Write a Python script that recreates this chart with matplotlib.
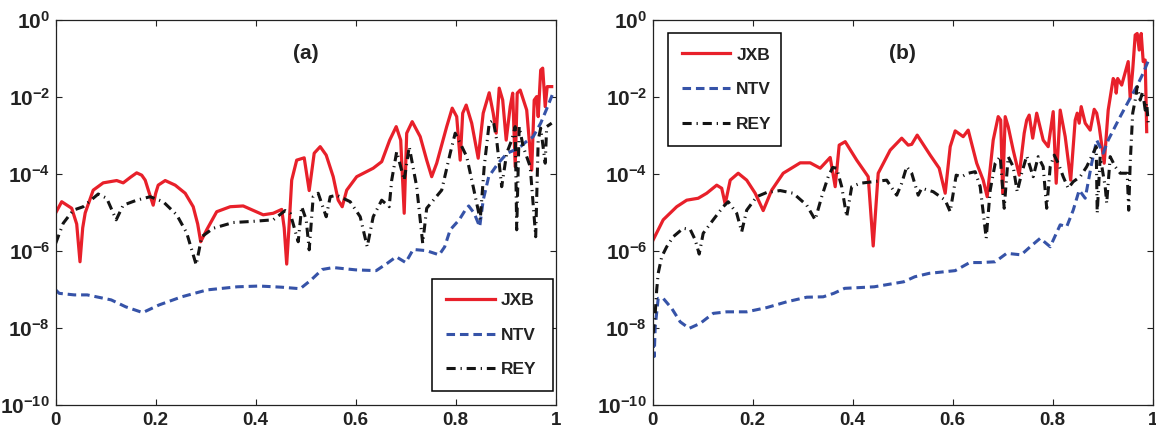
import numpy as np
import matplotlib
matplotlib.use("Agg")
import matplotlib.pyplot as plt

plt.rcParams['font.family'] = ['Liberation Sans', 'DejaVu Sans']
plt.rcParams['font.weight'] = 'bold'
plt.rcParams['mathtext.fontset'] = 'custom'
plt.rcParams['mathtext.rm'] = 'Liberation Sans:bold'
plt.rcParams['mathtext.bf'] = 'Liberation Sans:bold'
plt.rcParams['mathtext.default'] = 'bf'

# ---- panel (a): x and log10 of the value ----
a_jxb_x = [0.000, 0.012, 0.032, 0.042, 0.0486, 0.054, 0.059, 0.075, 0.095, 0.122, 0.135, 0.150, 0.162, 0.172,
           0.179, 0.186, 0.195, 0.200, 0.205, 0.219, 0.239, 0.259, 0.275, 0.284, 0.290, 0.302, 0.322, 0.349,
           0.375, 0.415, 0.435, 0.452, 0.457, 0.462, 0.467, 0.472, 0.482, 0.497, 0.507, 0.517, 0.529, 0.541,
           0.555, 0.565, 0.573, 0.582, 0.602, 0.635, 0.652, 0.668, 0.681, 0.690, 0.697, 0.702, 0.713, 0.729,
           0.742, 0.752, 0.762, 0.782, 0.793, 0.802, 0.809, 0.814, 0.821, 0.832, 0.845, 0.855, 0.867, 0.875,
           0.881, 0.887, 0.894, 0.901, 0.909, 0.914, 0.919, 0.923, 0.929, 0.942, 0.952, 0.957, 0.962, 0.965,
           0.970, 0.974, 0.979, 0.983, 0.992]
a_jxb_e = [-5.01, -4.72, -4.89, -5.3, -6.28, -5.4, -5.01, -4.42, -4.23, -4.17, -4.23, -4.08, -3.97, -4.03,
           -4.16, -4.45, -4.81, -4.5, -4.29, -4.17, -4.29, -4.50, -4.85, -5.3, -5.76, -5.45, -4.98, -4.85,
           -4.83, -5.06, -5.02, -4.92, -5.4, -6.34, -5.3, -4.16, -3.64, -3.58, -4.43, -3.46, -3.29, -3.51,
           -4.07, -4.68, -4.85, -4.42, -4.07, -3.85, -3.68, -3.12, -2.77, -3.12, -5.02, -2.94, -2.64, -3.03,
           -3.64, -4.07, -3.72, -2.77, -2.29, -2.51, -3.64, -2.42, -2.21, -2.68, -3.59, -2.42, -1.89, -2.42,
           -2.94, -1.77, -2.08, -3.12, -2.25, -1.90, -3.81, -1.90, -1.82, -2.34, -3.90, -2.08, -1.99, -2.51,
           -1.30, -1.25, -2.25, -1.73, -1.73]

a_ntv_x = [0.0, 0.007, 0.037, 0.063, 0.111, 0.140, 0.174, 0.207, 0.252, 0.303, 0.363, 0.407, 0.452, 0.489,
           0.511, 0.533, 0.555, 0.600, 0.641, 0.663, 0.681, 0.700, 0.715, 0.741, 0.767, 0.778, 0.789, 0.807,
           0.819, 0.826, 0.837, 0.848, 0.855, 0.866, 0.885, 0.903, 0.926, 0.941, 0.955, 0.970, 0.981, 0.993]
a_ntv_e = [-7.01, -7.1, -7.14, -7.14, -7.27, -7.45, -7.60, -7.40, -7.19, -7.01, -6.93, -6.91, -6.94, -6.98,
           -6.75, -6.48, -6.43, -6.49, -6.51, -6.32, -6.15, -6.30, -5.96, -5.99, -6.10, -5.89, -5.45, -5.19,
           -4.94, -4.83, -5.02, -5.37, -4.68, -4.07, -3.72, -3.46, -3.33, -3.16, -3.03, -2.68, -2.34, -1.95]

a_rey_x = [0.0, 0.015, 0.035, 0.055, 0.085, 0.102, 0.121, 0.135, 0.162, 0.189, 0.215, 0.242, 0.262, 0.281,
           0.292, 0.315, 0.355, 0.395, 0.435, 0.459, 0.469, 0.485, 0.492, 0.501, 0.507, 0.515, 0.525, 0.541,
           0.549, 0.562, 0.589, 0.609, 0.623, 0.635, 0.652, 0.667, 0.672, 0.682, 0.697, 0.707, 0.722, 0.734,
           0.742, 0.772, 0.789, 0.799, 0.809, 0.822, 0.835, 0.849, 0.857, 0.867, 0.875, 0.882, 0.892, 0.902,
           0.912, 0.919, 0.922, 0.927, 0.935, 0.949, 0.960, 0.965, 0.970, 0.979, 0.982, 0.992]
a_rey_e = [-5.8, -5.28, -4.94, -4.85, -4.52, -4.63, -5.19, -4.81, -4.68, -4.59, -4.72, -5.06, -5.53, -6.36,
           -5.63, -5.41, -5.26, -5.23, -5.19, -4.95, -5.02, -5.76, -4.85, -5.19, -5.97, -4.59, -4.50, -5.11,
           -4.59, -4.55, -4.72, -5.11, -5.89, -5.11, -4.68, -4.85, -4.16, -3.42, -4.16, -3.29, -4.33, -5.80,
           -4.89, -4.42, -3.46, -2.94, -3.20, -3.55, -4.33, -5.19, -3.81, -2.68, -2.60, -3.12, -4.33, -3.46,
           -3.12, -2.77, -5.45, -2.77, -3.29, -3.81, -5.63, -3.12, -2.81, -3.72, -2.77, -2.68]

# ---- panel (b) ----
b_jxb_x = [0.001, 0.021, 0.048, 0.068, 0.091, 0.108, 0.128, 0.138, 0.145, 0.155, 0.171, 0.188, 0.205, 0.221,
           0.238, 0.261, 0.295, 0.315, 0.335, 0.355, 0.365, 0.373, 0.385, 0.408, 0.431, 0.441, 0.451, 0.475,
           0.498, 0.511, 0.518, 0.529, 0.555, 0.573, 0.585, 0.595, 0.605, 0.621, 0.631, 0.648, 0.661, 0.669,
           0.681, 0.691, 0.696, 0.700, 0.705, 0.711, 0.721, 0.733, 0.743, 0.748, 0.753, 0.760, 0.768, 0.781,
           0.791, 0.801, 0.807, 0.815, 0.825, 0.836, 0.845, 0.849, 0.853, 0.857, 0.865, 0.875, 0.883, 0.888,
           0.893, 0.903, 0.911, 0.921, 0.925, 0.927, 0.930, 0.938, 0.951, 0.955, 0.960, 0.965, 0.969, 0.973,
           0.977, 0.981, 0.985, 0.988]
b_jxb_e = [-5.71, -5.19, -4.85, -4.68, -4.63, -4.50, -4.29, -4.37, -4.78, -4.16, -3.98, -4.16, -4.50, -4.95,
           -4.42, -3.98, -3.71, -3.71, -3.85, -3.57, -4.33, -3.25, -3.16, -3.64, -4.07, -5.87, -3.98, -3.38,
           -3.07, -3.25, -3.23, -2.99, -3.51, -3.85, -4.50, -3.29, -2.88, -3.03, -2.86, -3.72, -4.16, -4.59,
           -3.12, -2.51, -2.60, -4.50, -2.51, -2.77, -3.38, -4.03, -2.94, -2.60, -2.47, -3.07, -2.42, -3.12,
           -3.29, -2.38, -4.24, -2.34, -3.03, -4.16, -2.60, -2.42, -2.68, -2.25, -2.68, -2.86, -2.32, -2.42,
           -2.77, -3.72, -2.34, -1.52, -1.60, -1.90, -1.52, -1.69, -1.08, -2.03, -1.30, -0.39, -0.35, -0.78,
           -0.35, -1.08, -1.04, -2.90]

b_ntv_x = [0.000, 0.003, 0.005, 0.011, 0.021, 0.038, 0.055, 0.073, 0.095, 0.121, 0.148, 0.188, 0.228, 0.268,
           0.308, 0.341, 0.362, 0.384, 0.443, 0.502, 0.524, 0.553, 0.605, 0.634, 0.656, 0.685, 0.708, 0.737,
           0.755, 0.775, 0.795, 0.815, 0.828, 0.841, 0.853, 0.865, 0.878, 0.888, 0.901, 0.911, 0.935, 0.955,
           0.968, 0.981, 0.993]
b_ntv_e = [-8.3, -8.74, -7.97, -7.23, -7.23, -7.49, -7.84, -8.01, -7.88, -7.62, -7.58, -7.58, -7.47, -7.32,
           -7.20, -7.19, -7.10, -6.97, -6.93, -6.80, -6.67, -6.58, -6.51, -6.30, -6.30, -6.28, -6.06, -6.10,
           -5.89, -5.67, -5.89, -5.32, -5.37, -4.94, -4.42, -4.63, -3.72, -3.12, -3.46, -3.12, -2.51, -2.03,
           -1.73, -1.38, -1.00]

b_rey_x = [0.001, 0.005, 0.008, 0.011, 0.018, 0.028, 0.041, 0.061, 0.075, 0.085, 0.093, 0.101, 0.121, 0.141,
           0.151, 0.168, 0.178, 0.188, 0.208, 0.228, 0.255, 0.281, 0.308, 0.325, 0.338, 0.351, 0.360, 0.368,
           0.378, 0.388, 0.398, 0.415, 0.441, 0.468, 0.488, 0.498, 0.508, 0.518, 0.531, 0.538, 0.561, 0.585,
           0.595, 0.607, 0.618, 0.631, 0.645, 0.655, 0.667, 0.675, 0.685, 0.695, 0.703, 0.711, 0.721, 0.729,
           0.738, 0.748, 0.761, 0.771, 0.781, 0.788, 0.795, 0.803, 0.811, 0.821, 0.831, 0.841, 0.855, 0.868,
           0.881, 0.887, 0.889, 0.895, 0.905, 0.908, 0.915, 0.925, 0.935, 0.949, 0.952, 0.955, 0.960, 0.965,
           0.969, 0.975, 0.980, 0.985, 0.988, 0.991]
b_rey_e = [-8.14, -7.62, -7.01, -6.58, -6.15, -5.89, -5.63, -5.41, -5.44, -5.71, -6.08, -5.54, -5.19, -4.85,
           -4.72, -5.02, -5.50, -4.94, -4.59, -4.48, -4.43, -4.50, -4.81, -5.19, -4.59, -4.07, -3.83, -3.85,
           -4.33, -5.11, -4.33, -4.24, -4.20, -4.16, -4.55, -4.24, -3.81, -3.98, -4.55, -4.37, -4.46, -4.68,
           -4.98, -4.03, -4.07, -3.98, -3.94, -4.33, -5.67, -4.42, -3.72, -3.55, -4.89, -3.55, -3.81, -4.46,
           -3.98, -3.53, -4.07, -3.55, -3.81, -4.89, -3.81, -3.51, -3.72, -4.07, -4.37, -4.20, -4.07, -3.81,
           -3.46, -3.29, -5.02, -3.55, -4.33, -4.76, -3.55, -3.81, -3.98, -3.98, -4.94, -3.72, -2.42, -2.08,
           -1.73, -2.08, -1.86, -2.34, -2.16, -2.68]

labels = ["JXB", "NTV", "REY"]
x_ticks = [0, 0.2, 0.4, 0.6, 0.8, 1]
y_ticks = [1e-10, 1e-8, 1e-6, 1e-4, 1e-2, 1e0]

RED = "#e8202a"
BLUE = "#3653a8"
BLACK = "#141414"


def draw_panel(ax, jxb, ntv, rey, title):
    l1, = ax.semilogy(jxb[0], 10.0 ** np.array(jxb[1]), color=RED, lw=2.3, label=labels[0])
    l2, = ax.semilogy(ntv[0], 10.0 ** np.array(ntv[1]), color=BLUE, lw=2.2, label=labels[1],
                      linestyle=(0, (2.8, 1.6)))
    l3, = ax.semilogy(rey[0], 10.0 ** np.array(rey[1]), color=BLACK, lw=2.2, label=labels[2],
                      linestyle=(0, (3.0, 1.6, 0.4, 1.6)))
    ax.set_xlim(0, 1)
    ax.set_ylim(1e-10, 1)
    ax.set_xticks(x_ticks)
    ax.set_xticklabels(["0", "0.2", "0.4", "0.6", "0.8", "1"])
    ax.set_yticks(y_ticks)
    ax.minorticks_off()
    ax.tick_params(direction="in", length=4, width=0.8, top=True, right=True,
                   pad=5, colors="#222222")
    ax.tick_params(axis="x", labelsize=13.5)
    ax.tick_params(axis="y", labelsize=15, pad=4)
    for s in ax.spines.values():
        s.set_linewidth(0.9)
        s.set_color("#222222")
    ax.text(0.5, 0.912, title, transform=ax.transAxes, ha="center", va="center",
            fontsize=15, fontweight="bold", color="#222222")
    return [l1, l2, l3]


fig = plt.figure(figsize=(11.56, 4.34), dpi=100)
ax1 = fig.add_axes([55.7 / 1156, 29 / 434, 500 / 1156, 385 / 434])
ax2 = fig.add_axes([652.7 / 1156, 29 / 434, 500 / 1156, 385 / 434])

h1 = draw_panel(ax1, (a_jxb_x, a_jxb_e), (a_ntv_x, a_ntv_e), (a_rey_x, a_rey_e), "(a)")
h2 = draw_panel(ax2, (b_jxb_x, b_jxb_e), (b_ntv_x, b_ntv_e), (b_rey_x, b_rey_e), "(b)")

leg_kw = dict(mode="expand", borderaxespad=0, fancybox=False, framealpha=1, edgecolor="black",
              prop={"size": 12.5, "weight": "bold"}, handlelength=2.8, handletextpad=0.35,
              labelspacing=1.12, borderpad=0.8)
leg1 = ax1.legend(h1, labels, loc="lower left", bbox_to_anchor=(0.753, 0.036, 0.242, 0.3), **leg_kw)
leg2 = ax2.legend(h2, labels, loc="upper left", bbox_to_anchor=(0.03, 0.665, 0.226, 0.3), **leg_kw)
for lg in (leg1, leg2):
    lg.get_frame().set_linewidth(1.1)
    for t in lg.get_texts():
        t.set_color("#222222")

fig.savefig("out.png", dpi=100)
